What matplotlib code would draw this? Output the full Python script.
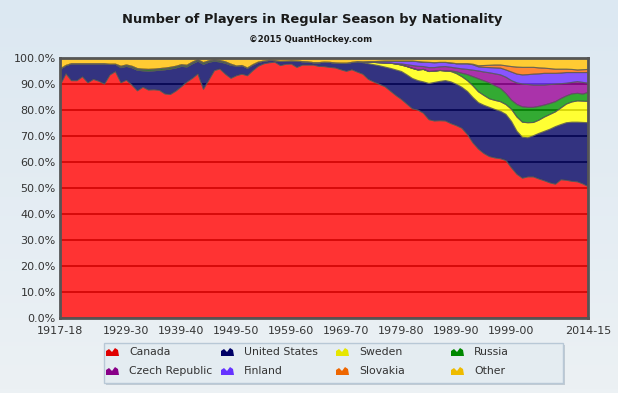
import matplotlib
matplotlib.use('Agg')
import matplotlib.pyplot as plt
from matplotlib.patches import Rectangle, Polygon
from matplotlib.colors import LinearSegmentedColormap
import numpy as np

# seasons 1917-18 .. 2014-15, no 2004-05 (lockout)
seasons = []
for y in range(1917, 2015):
    if y == 2004:
        continue
    seasons.append('%d-%02d' % (y, (y + 1) % 100))

tick_labels = ['1917-18', '1929-30', '1939-40', '1949-50', '1959-60', '1969-70',
               '1979-80', '1989-90', '1999-00', '2014-15']

names = ['Canada', 'United States', 'Sweden', 'Russia',
         'Czech Republic', 'Finland', 'Slovakia', 'Other']

# share of players (%) per season
canada = [90.0, 94.2, 91.5, 91.5, 93.0, 90.7, 92.0, 91.3, 90.2, 93.7,
          95.0, 90.7, 91.7, 89.8, 87.6, 89.0, 87.9, 88.0, 87.8, 86.4,
          86.2, 87.5, 89.2, 91.0, 92.4, 94.1, 88.2, 91.8, 95.4, 96.0,
          94.0, 92.4, 93.4, 94.0, 93.4, 95.4, 97.1, 98.0, 98.4, 98.6,
          97.3, 97.8, 97.9, 96.6, 97.5, 97.5, 97.5, 97.0, 96.9, 96.6,
          96.4, 95.7, 95.1, 95.7, 94.8, 94.0, 92.0, 91.0, 90.1, 89.2,
          87.5, 85.8, 84.3, 82.5, 80.7, 80.2, 79.0, 76.5, 76.0, 76.1,
          76.0, 75.0, 74.2, 73.2, 70.8, 67.6, 65.2, 63.5, 62.3, 61.8,
          61.5, 60.8, 58.0, 55.5, 54.0, 54.5, 54.5, 53.7, 53.0, 52.2,
          51.7, 53.4, 53.2, 52.8, 52.6, 51.8, 50.7]
usa = [6.0, 3.1, 6.5, 6.5, 5.0, 7.3, 6.0, 6.7, 7.8, 4.1,
       2.8, 5.8, 5.3, 6.7, 7.9, 6.3, 7.3, 7.3, 7.7, 9.3,
       9.8, 8.9, 7.8, 5.8, 5.6, 4.9, 9.6, 6.8, 3.6, 2.7,
       4.2, 5.0, 3.7, 3.3, 2.9, 2.2, 1.5, 1.0, 0.9, 0.6,
       1.6, 1.2, 1.2, 2.4, 1.3, 1.2, 0.9, 1.4, 1.7, 1.9,
       1.9, 2.5, 3.1, 2.8, 4.0, 4.4, 6.0, 6.6, 7.1, 7.5,
       8.7, 9.8, 10.7, 11.2, 11.6, 11.3, 12.0, 13.9, 14.8, 15.1,
       15.5, 16.0, 15.9, 15.7, 16.5, 17.4, 17.8, 18.5, 18.9, 18.6,
       18.2, 17.7, 17.8, 16.5, 15.7, 15.0, 15.8, 17.5, 19.0, 20.6,
       22.1, 21.2, 22.1, 22.7, 22.9, 23.6, 24.6]
sweden = [0, 0, 0, 0, 0, 0, 0, 0, 0, 0,
          0, 0, 0, 0, 0, 0, 0, 0, 0, 0,
          0, 0, 0, 0, 0, 0, 0, 0, 0, 0,
          0, 0, 0, 0, 0, 0, 0, 0, 0, 0,
          0, 0, 0, 0, 0, 0, 0, 0, 0, 0,
          0, 0, 0, 0, 0, 0.3, 0.6, 0.9, 1.2, 1.6,
          2.0, 2.3, 2.5, 3.2, 3.9, 4.1, 4.8, 4.6, 4.3, 4.2,
          3.7, 4.0, 4.1, 4.1, 4.2, 4.5, 4.2, 3.8, 3.3, 3.5,
          3.7, 3.8, 4.7, 5.5, 5.8, 5.8, 5.1, 5.1, 5.5, 5.7,
          5.7, 6.4, 7.2, 7.8, 8.2, 8.2, 8.2]
russia = [0, 0, 0, 0, 0, 0, 0, 0, 0, 0,
          0, 0.5, 0.5, 0.5, 0.6, 0.6, 0.6, 0.6, 0.6, 0.6,
          0.6, 0.6, 0.6, 0.6, 0.6, 0.5, 0.6, 0.5, 0.5, 0.5,
          0.5, 0.4, 0, 0, 0, 0, 0, 0, 0, 0,
          0, 0, 0, 0, 0, 0, 0, 0, 0, 0,
          0, 0, 0, 0, 0, 0, 0, 0, 0, 0,
          0, 0, 0, 0, 0, 0, 0, 0, 0, 0,
          0, 0.2, 0.7, 1.3, 2.3, 3.5, 5.0, 5.6, 6.1, 5.6,
          5.1, 4.2, 3.5, 4.8, 5.9, 5.9, 5.8, 5.3, 4.6, 4.2,
          3.9, 3.6, 3.1, 3.1, 2.9, 2.7, 3.5]
czech = [0, 0, 0, 0, 0, 0, 0, 0, 0, 0,
         0, 0, 0, 0, 0, 0, 0, 0, 0, 0,
         0, 0, 0, 0, 0, 0, 0, 0, 0, 0,
         0, 0, 0, 0, 0, 0, 0, 0, 0, 0,
         0, 0, 0, 0, 0, 0, 0, 0, 0, 0,
         0, 0, 0, 0, 0, 0, 0, 0, 0, 0,
         0, 0.1, 0.4, 0.7, 1.1, 1.4, 1.1, 1.5, 1.4, 1.4,
         1.7, 1.4, 1.4, 1.7, 2.0, 2.5, 3.0, 3.4, 3.9, 4.6,
         5.2, 6.3, 7.5, 8.3, 8.8, 8.8, 8.6, 8.2, 7.7, 7.3,
         6.8, 5.7, 4.9, 4.4, 4.5, 4.5, 3.5]
finland = [0, 0, 0, 0, 0, 0, 0, 0, 0, 0,
           0, 0, 0, 0, 0, 0, 0, 0, 0, 0,
           0, 0, 0, 0, 0, 0, 0, 0, 0, 0,
           0, 0, 0, 0, 0, 0, 0, 0, 0, 0,
           0, 0, 0, 0, 0, 0, 0, 0, 0, 0,
           0, 0, 0, 0, 0, 0, 0.2, 0.3, 0.5, 0.7,
           0.8, 1.0, 1.1, 1.4, 1.7, 1.8, 1.7, 2.0, 1.9, 1.7,
           1.6, 1.7, 1.7, 2.0, 2.2, 2.1, 1.6, 1.8, 2.0, 2.3,
           2.6, 2.8, 3.3, 3.4, 3.5, 3.8, 4.2, 4.3, 4.5, 4.3,
           4.1, 4.1, 4.1, 3.8, 3.5, 3.8, 4.1]
slovakia = [0, 0, 0, 0, 0, 0, 0, 0, 0, 0,
            0, 0, 0, 0, 0, 0, 0, 0, 0, 0,
            0, 0, 0, 0, 0, 0, 0, 0, 0, 0,
            0, 0, 0, 0, 0, 0, 0, 0, 0, 0,
            0, 0, 0, 0, 0, 0, 0, 0, 0, 0,
            0, 0, 0, 0, 0, 0, 0, 0, 0, 0,
            0, 0, 0, 0, 0, 0, 0, 0, 0, 0,
            0, 0, 0, 0, 0, 0.2, 0.4, 0.7, 0.9, 1.1,
            1.2, 1.6, 2.1, 2.7, 2.9, 2.8, 2.6, 2.3, 2.0, 1.8,
            1.6, 1.5, 1.3, 1.2, 1.0, 1.1, 1.2]
other = [4.0, 2.7, 2.0, 2.0, 2.0, 2.0, 2.0, 2.0, 2.0, 2.2,
         2.2, 3.0, 2.5, 3.0, 3.9, 4.1, 4.2, 4.1, 3.9, 3.7,
         3.4, 3.0, 2.4, 2.6, 1.4, 0.5, 1.6, 0.9, 0.5, 0.8,
         1.3, 2.2, 2.9, 2.7, 3.7, 2.4, 1.4, 1.0, 0.7, 0.8,
         1.1, 1.0, 0.9, 1.0, 1.2, 1.3, 1.6, 1.6, 1.4, 1.5,
         1.7, 1.8, 1.8, 1.5, 1.2, 1.3, 1.2, 1.2, 1.1, 1.0,
         1.0, 1.0, 1.0, 1.0, 1.0, 1.2, 1.4, 1.5, 1.6, 1.5,
         1.5, 1.7, 2.0, 2.0, 2.0, 2.2, 2.8, 2.7, 2.6, 2.5,
         2.5, 2.8, 3.1, 3.3, 3.4, 3.4, 3.4, 3.6, 3.7, 3.9,
         4.1, 4.1, 4.1, 4.2, 4.4, 4.3, 4.2]

# base colours, filled at 0.8 opacity over white (grid shows through darker)
base_colors = ['#ff0000', '#000060', '#ffff00', '#009500',
               '#950095', '#6a2aff', '#ff6a00', '#ffbf00']
icon_colors = ['#e00000', '#000066', '#e6e600', '#008800',
               '#880088', '#6633ff', '#ee6600', '#eebb00']

W, H = 618, 393
bg = '#e4edf4'
fig = plt.figure(figsize=(W / 100, H / 100), dpi=100, facecolor=bg)

# soft vertical gradient behind everything
bg_ax = fig.add_axes([0, 0, 1, 1], zorder=-10)
grad = LinearSegmentedColormap.from_list('bg', ['#ecf1f4', '#dce8f2'])
bg_ax.imshow(np.linspace(0, 1, 100).reshape(-1, 1), aspect='auto', cmap=grad,
             origin='lower', extent=[0, 1, 0, 1])
bg_ax.axis('off')

ax = fig.add_axes([60 / W, 1 - 318 / H, 528 / W, 260 / H])
ax.set_facecolor('white')

x = np.arange(len(seasons))
ax.stackplot(x, canada, usa, sweden, russia, czech, finland, slovakia, other,
             colors=base_colors, alpha=0.8, edgecolor='#5a5a5a', linewidth=0.8)

ax.set_axisbelow(True)
ax.yaxis.grid(True, color='black', lw=1.1)

ax.set_xlim(0, len(seasons) - 1)
ax.set_ylim(0, 100)
ax.set_yticks(range(0, 101, 10))
ax.set_yticklabels(['%.1f%%' % v for v in range(0, 101, 10)])
ticks = [seasons.index(s) for s in tick_labels]
ax.set_xticks(ticks)
ax.set_xticklabels(tick_labels)
ax.tick_params(length=0, labelsize=8, colors='#333333')
ax.tick_params(axis='y', pad=3)
ax.tick_params(axis='x', pad=5.5)
for sp in ax.spines.values():
    sp.set_color('#555555')
    sp.set_linewidth(2)
    sp.set_zorder(6)

fig.text(312 / W, 1 - 20 / H, 'Number of Players in Regular Season by Nationality',
         ha='center', va='center', fontsize=9.4, fontweight='bold', color='#1a1a1a')
fig.text(311 / W, 1 - 40 / H, '\u00a92015 QuantHockey.com',
         ha='center', va='center', fontsize=6.2, fontweight='bold', color='#1a1a1a')

# legend box
def px(xp, yp):
    return xp / W, 1 - yp / H

fig.patches.append(Rectangle(px(106, 385), 459 / W, 40 / H, transform=fig.transFigure,
                             fc='#9aa8b4', ec='none', alpha=0.5, zorder=1))
fig.patches.append(Rectangle(px(104, 383), 459 / W, 40 / H, transform=fig.transFigure,
                             fc='#e4ecf1', ec='#b8c8d6', lw=1, zorder=2))
icon = [(0, 4), (0, -1), (3, -3), (6, 0), (9, -4), (12, -2), (13, 4)]
for k, name in enumerate(names):
    col = k % 4
    row = k // 4
    x0 = 106 + 115 * col
    yc = 352 + 19 * row
    pts = [px(x0 + dx, yc + dy) for dx, dy in icon]
    fig.patches.append(Polygon(pts, closed=True, transform=fig.transFigure,
                               fc=icon_colors[k], ec='none', zorder=3))
    fig.text((x0 + 23) / W, 1 - yc / H, name, ha='left', va='center',
             fontsize=7.8, color='#333333')

fig.savefig('out.png', dpi=100, facecolor=bg)
